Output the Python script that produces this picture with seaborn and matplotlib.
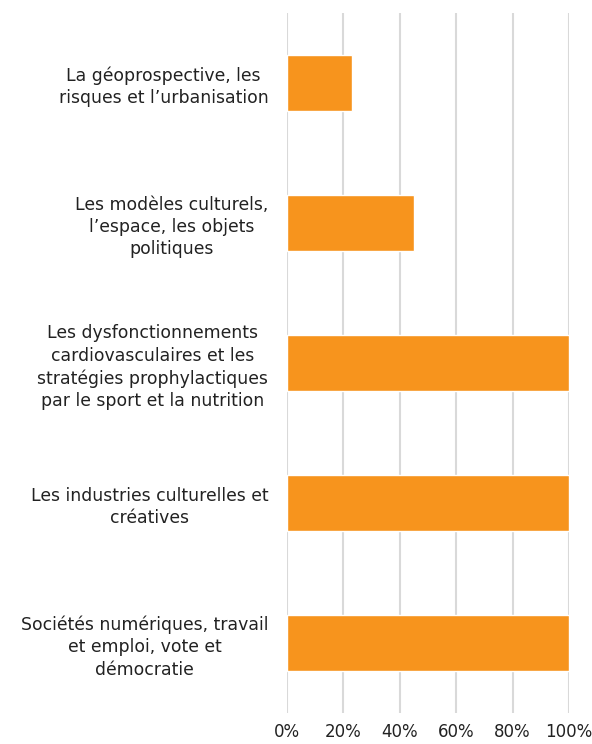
import pandas as pd
import matplotlib.pyplot as plt
import seaborn as sns
from matplotlib.ticker import PercentFormatter

categories = [
    "La géoprospective, les\nrisques et l’urbanisation",
    "Les modèles culturels,\nl’espace, les objets\npolitiques",
    "Les dysfonctionnements\ncardiovasculaires et les\nstratégies prophylactiques\npar le sport et la nutrition",
    "Les industries culturelles et\ncréatives",
    "Sociétés numériques, travail\net emploi, vote et\ndémocratie",
]
values = [23, 45, 100, 100, 100]

df = pd.DataFrame({"theme": categories, "pct": values})

sns.set_theme(style="white")
plt.rcParams["font.family"] = ["DejaVu Sans"]

fig = plt.figure(figsize=(5.92, 7.44), dpi=100)
ax = fig.add_axes([0.4848, 0.0417, 0.4764, 0.9408])

sns.barplot(data=df, x="pct", y="theme", color="#F7941D", saturation=1,
            width=0.4, ax=ax)

ax.set_xlim(0, 100)
ax.set_xticks(range(0, 101, 20))
ax.xaxis.set_major_formatter(PercentFormatter(decimals=0))
ax.grid(axis="x", color="#D9D9D9", linewidth=1.5)
ax.set_axisbelow(True)
for s in ax.spines.values():
    s.set_visible(False)
ax.set_xlabel("")
ax.set_ylabel("")
ax.tick_params(axis="both", length=0, colors="#222222")
ax.tick_params(axis="x", pad=7, labelsize=12)
ax.tick_params(axis="y", pad=13.5, labelsize=12.4)
for lab in ax.get_yticklabels():
    lab.set_horizontalalignment("right")
    lab.set_multialignment("center")
    lab.set_linespacing(1.3)

plt.savefig("out.png", dpi=100)
plt.close()
